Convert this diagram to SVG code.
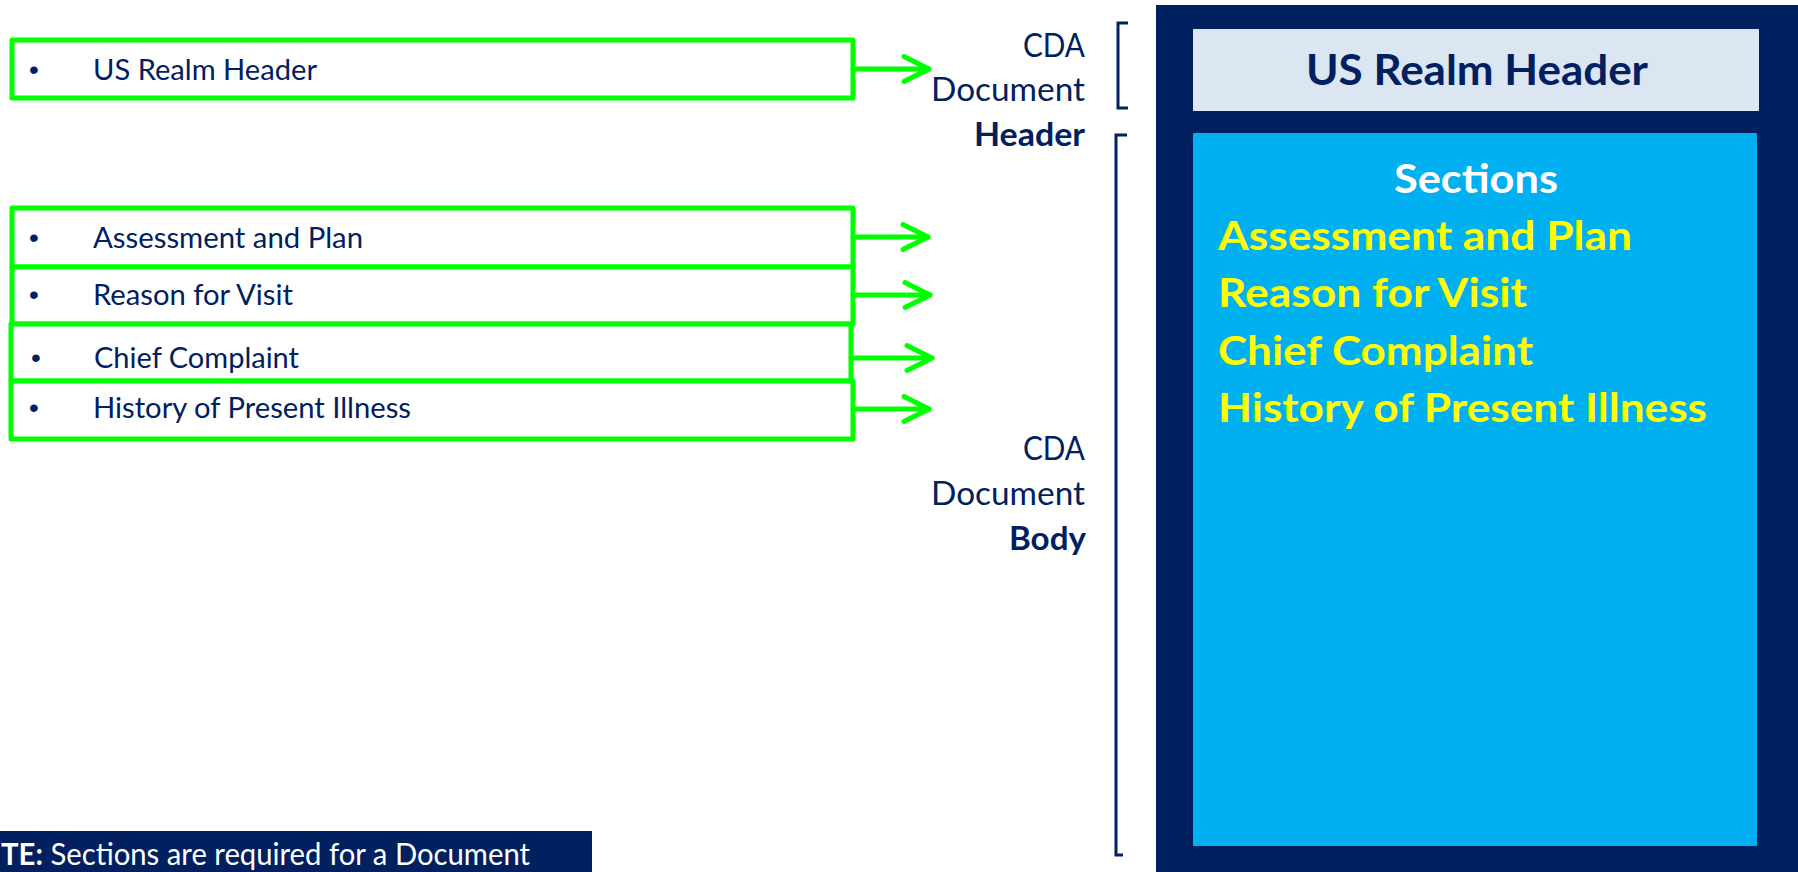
<svg xmlns="http://www.w3.org/2000/svg" width="1798" height="872" viewBox="0 0 1798 872">
<defs>
<style>
.gb{fill:#ffffff;stroke:#00ff00;stroke-width:5;stroke-linejoin:round}
.lt{font-family:Lato,"Open Sans","Liberation Sans",sans-serif;font-size:29px;fill:#002060}
.bul{font-family:"Liberation Sans",sans-serif;font-size:28px;fill:#002060}
.lab{font-family:Lato,"Open Sans","Liberation Sans",sans-serif;font-size:33px;fill:#002060;text-anchor:end}
.b{font-weight:bold}
.conn{stroke:#00ff00;stroke-width:5;fill:none;stroke-linecap:round}
.brk{stroke:#002060;stroke-width:3;fill:none}
.yel{font-family:Lato,"Open Sans","Liberation Sans",sans-serif;font-size:41px;font-weight:bold;fill:#ffff00}
</style>
<marker id="ah" markerUnits="userSpaceOnUse" viewBox="0 0 40 40" markerWidth="40" markerHeight="40" refX="32" refY="20" orient="auto">
<path d="M7,7.5 L32,20 L7,32.5" fill="none" stroke="#00ff00" stroke-width="5" stroke-linecap="round" stroke-linejoin="round"/>
</marker>
</defs>
<rect width="1798" height="872" fill="#ffffff"/>

<g id="src-us-realm-header">
<rect class="gb" x="12" y="40" width="841" height="58"/>
<text class="bul" x="29" y="79">•</text>
<text class="lt" x="93" y="80" textLength="224" lengthAdjust="spacingAndGlyphs">US Realm Header</text>
</g>
<g id="src-assessment">
<rect class="gb" x="12" y="208" width="841" height="59"/>
<text class="bul" x="29" y="247">•</text>
<text class="lt" x="93" y="248" textLength="270" lengthAdjust="spacingAndGlyphs">Assessment and Plan</text>
</g>
<g id="src-reason">
<rect class="gb" x="12" y="267" width="841" height="57"/>
<text class="bul" x="29" y="304">•</text>
<text class="lt" x="93" y="305" textLength="200" lengthAdjust="spacingAndGlyphs">Reason for Visit</text>
</g>
<g id="src-chief">
<rect class="gb" x="11" y="324" width="840" height="57"/>
<text class="bul" x="31" y="367">•</text>
<text class="lt" x="94" y="368" textLength="205" lengthAdjust="spacingAndGlyphs">Chief Complaint</text>
</g>
<g id="src-history">
<rect class="gb" x="11" y="381" width="842" height="58"/>
<text class="bul" x="29" y="417">•</text>
<text class="lt" x="93" y="418" textLength="318" lengthAdjust="spacingAndGlyphs">History of Present Illness</text>
</g>

<g id="connectors">
<line class="conn" x1="853" y1="69" x2="929" y2="69" marker-end="url(#ah)"/>
<line class="conn" x1="853" y1="237" x2="928" y2="237" marker-end="url(#ah)"/>
<line class="conn" x1="853" y1="295" x2="930" y2="295" marker-end="url(#ah)"/>
<line class="conn" x1="851" y1="358" x2="932" y2="358" marker-end="url(#ah)"/>
<line class="conn" x1="853" y1="409" x2="929" y2="409" marker-end="url(#ah)"/>
</g>

<g id="label-header">
<text class="lab" x="1085" y="57" textLength="62" lengthAdjust="spacingAndGlyphs">CDA</text>
<text class="lab" x="1085" y="101" textLength="154" lengthAdjust="spacingAndGlyphs">Document</text>
<text class="lab b" x="1085" y="146" textLength="111" lengthAdjust="spacingAndGlyphs">Header</text>
<path class="brk" d="M1128,23 L1118,23 L1118,108 L1128,108"/>
</g>
<g id="label-body">
<text class="lab" x="1085" y="460" textLength="62" lengthAdjust="spacingAndGlyphs">CDA</text>
<text class="lab" x="1085" y="505" textLength="154" lengthAdjust="spacingAndGlyphs">Document</text>
<text class="lab b" x="1086" y="550" textLength="77" lengthAdjust="spacingAndGlyphs">Body</text>
<path class="brk" d="M1127,135 L1116,135 L1116,855 L1123,855"/>
</g>

<g id="document">
<rect x="1156" y="5" width="642" height="867" fill="#002060"/>
<g id="doc-header">
<rect x="1193" y="29" width="566" height="82" fill="#dce6f2" rx="1"/>
<text x="1477" y="85" text-anchor="middle" font-family="Lato,'Open Sans','Liberation Sans',sans-serif" font-size="42" font-weight="bold" fill="#002060" textLength="342" lengthAdjust="spacingAndGlyphs">US Realm Header</text>
</g>
<g id="doc-sections">
<rect x="1193" y="133" width="564" height="713" fill="#00b0f0" rx="1"/>
<text x="1476" y="193" text-anchor="middle" font-family="Lato,'Open Sans','Liberation Sans',sans-serif" font-size="41" font-weight="bold" fill="#ffffff" textLength="164" lengthAdjust="spacingAndGlyphs">Sections</text>
<text class="yel" x="1218" y="250" textLength="414" lengthAdjust="spacingAndGlyphs">Assessment and Plan</text>
<text class="yel" x="1218" y="307" textLength="309" lengthAdjust="spacingAndGlyphs">Reason for Visit</text>
<text class="yel" x="1218" y="365" textLength="315" lengthAdjust="spacingAndGlyphs">Chief Complaint</text>
<text class="yel" x="1218" y="422" textLength="489" lengthAdjust="spacingAndGlyphs">History of Present Illness</text>
</g>
</g>

<g id="note">
<rect x="0" y="831" width="592" height="41" fill="#002060"/>
<text x="1" y="865" font-family="Lato,'Open Sans','Liberation Sans',sans-serif" font-size="30" fill="#ffffff" textLength="529" lengthAdjust="spacingAndGlyphs"><tspan font-weight="bold">TE:</tspan> Sections are required for a Document</text>
</g>
</svg>
